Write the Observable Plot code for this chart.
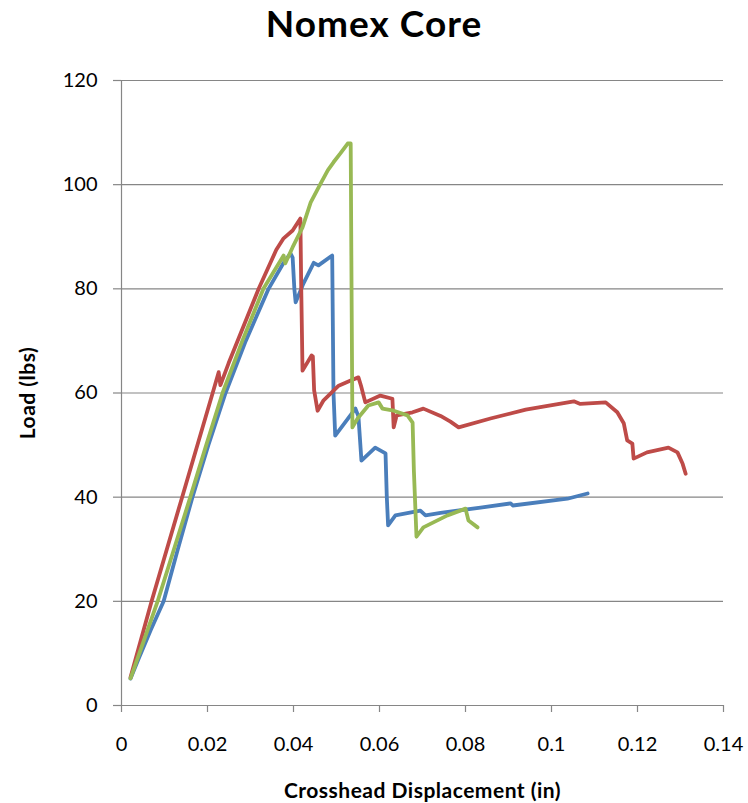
<!DOCTYPE html>
<html>
<head>
<meta charset="utf-8">
<script src="https://cdn.jsdelivr.net/npm/d3@7"></script>
<script src="https://cdn.jsdelivr.net/npm/@observablehq/plot@0.6"></script>
<style>
  html, body { margin: 0; padding: 0; background: #fff; }
  #wrap { width: 748px; font-family: Lato, "Open Sans", sans-serif; }
  #title { height: 60px; box-sizing: border-box; padding-top: 4px; text-align: center; font-weight: bold; font-size: 37px; letter-spacing: 1px; line-height: 37px; color: #000; }
  #chart svg [aria-label="x-axis label"] text,
  #chart svg [aria-label="y-axis label"] text { font-weight: bold; font-size: 21px; letter-spacing: 0.5px; }
</style>
</head>
<body>
<div id="wrap">
  <div id="title">Nomex Core</div>
  <div id="chart"></div>
</div>
<script>
const titleText = "Nomex Core";
const xLabel = "Crosshead Displacement (in)";
const yLabel = "Load (lbs)";
const xTicks = [0, 0.02, 0.04, 0.06, 0.08, 0.1, 0.12, 0.14];
const yTicks = [0, 20, 40, 60, 80, 100, 120];

const blueX = [0.0021, 0.0040, 0.0068, 0.0098, 0.0131, 0.0165, 0.0202, 0.0242, 0.0289, 0.0342, 0.0377, 0.0393, 0.0398, 0.0402, 0.0405, 0.0423, 0.0447, 0.0458, 0.0490, 0.0493, 0.0497, 0.0544, 0.0551, 0.0558, 0.0590, 0.0614, 0.0617, 0.0620, 0.0637, 0.0695, 0.0707, 0.0742, 0.0835, 0.0905, 0.0910, 0.1037, 0.1084];
const blueY = [5.2, 9, 14.5, 20, 30, 40, 50, 60, 70, 80, 85, 86.8, 86, 80, 77.4, 81, 85, 84.5, 86.4, 60, 51.8, 57, 55.5, 47, 49.5, 48.4, 40, 34.6, 36.5, 37.4, 36.5, 37, 38, 38.8, 38.4, 39.7, 40.7];

const redX = [0.0021, 0.0070, 0.0141, 0.0212, 0.0226, 0.0230, 0.0249, 0.0319, 0.0360, 0.0377, 0.0398, 0.0416, 0.0418, 0.0421, 0.0442, 0.0445, 0.0448, 0.0456, 0.0470, 0.0505, 0.0533, 0.0551, 0.0557, 0.0567, 0.0602, 0.0630, 0.0633, 0.0640, 0.0677, 0.0702, 0.0742, 0.0765, 0.0784, 0.0858, 0.0940, 0.1052, 0.1067, 0.1126, 0.1153, 0.1168, 0.1176, 0.1188, 0.1191, 0.1222, 0.1272, 0.1293, 0.1305, 0.1312];
const redY = [5.4, 20, 40, 60, 64, 61.5, 65.7, 80, 87.5, 89.7, 91.2, 93.5, 80, 64.3, 67.2, 67, 60.5, 56.6, 58.6, 61.4, 62.4, 63, 61.4, 58.2, 59.5, 58.9, 53.4, 55.7, 56.3, 57, 55.6, 54.5, 53.4, 55.1, 56.8, 58.4, 57.9, 58.2, 56.3, 54.2, 50.9, 50.3, 47.4, 48.6, 49.5, 48.6, 46.4, 44.5];

const greenX = [0.0021, 0.0050, 0.0084, 0.0122, 0.0160, 0.0197, 0.0235, 0.0281, 0.0330, 0.0377, 0.0381, 0.0398, 0.0421, 0.0440, 0.0463, 0.0480, 0.0493, 0.0509, 0.0526, 0.0533, 0.0535, 0.0537, 0.0549, 0.0574, 0.0598, 0.0607, 0.0633, 0.0665, 0.0677, 0.0680, 0.0686, 0.0702, 0.0758, 0.0800, 0.0807, 0.0828];
const greenY = [5.2, 12, 20, 30, 40, 50, 60, 70, 80, 86.4, 84.9, 88, 91.8, 96.6, 100.2, 102.8, 104.3, 106, 107.9, 107.9, 80, 53.4, 55.1, 57.6, 58.2, 57, 56.6, 55.7, 54.3, 45, 32.4, 34.2, 36.5, 37.8, 35.5, 34.2];

const toRows = (xs, ys) => xs.map((x, i) => ({x, y: ys[i]}));
const blue = toRows(blueX, blueY);
const red = toRows(redX, redY);
const green = toRows(greenX, greenY);

const gray = "#868686";
const lineOpts = {x: "x", y: "y", strokeWidth: 3.8, strokeLinejoin: "round", strokeLinecap: "round"};

const chart = Plot.plot({
  width: 748,
  height: 743,
  marginTop: 20,
  marginBottom: 98,
  marginLeft: 121,
  marginRight: 25,
  style: {fontFamily: "Lato, 'Open Sans', sans-serif", fontSize: "20px", color: "#000", background: "#fff"},
  x: {domain: [0, 0.14]},
  y: {domain: [0, 120]},
  marks: [
    Plot.gridY(yTicks, {stroke: gray, strokeOpacity: 1, strokeWidth: 1.2}),
    Plot.ruleX([0], {stroke: gray, strokeWidth: 1.2}),
    Plot.axisY(yTicks, {stroke: gray, strokeWidth: 1.2, tickSize: 8, tickPadding: 16, tickFormat: d => String(d), fontSize: 20,
      label: yLabel, labelAnchor: "center", labelArrow: "none", labelOffset: 101}),
    Plot.axisX(xTicks, {stroke: gray, strokeWidth: 1.2, tickSize: 7, tickPadding: 24, tickFormat: d => String(d), fontSize: 20,
      label: xLabel, labelAnchor: "center", labelArrow: "none", labelOffset: 92}),
    Plot.line(blue, {...lineOpts, stroke: "#4A7EBB"}),
    Plot.line(red, {...lineOpts, stroke: "#BE4B48"}),
    Plot.line(green, {...lineOpts, stroke: "#98B954"})
  ]
});
document.getElementById("chart").appendChild(chart);
document.getElementById("title").textContent = titleText;
</script>
</body>
</html>
